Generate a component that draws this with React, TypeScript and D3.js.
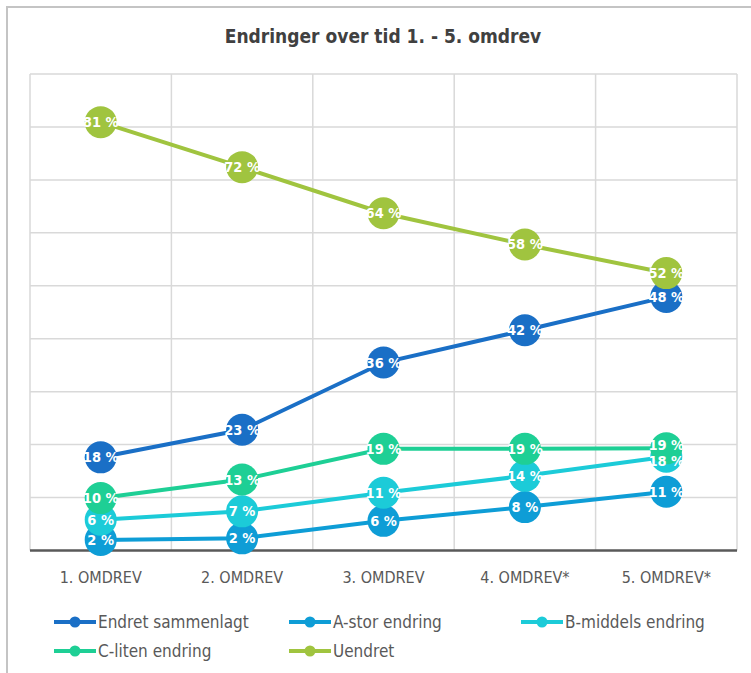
import React, { useEffect, useRef } from "react";
import * as d3 from "d3";

const categories = ["1. OMDREV", "2. OMDREV", "3. OMDREV", "4. OMDREV*", "5. OMDREV*"];
const seriesNames = ["Endret sammenlagt", "A-stor endring", "B-middels endring", "C-liten endring", "Uendret"];
const seriesColors = ["#1a6fc6", "#0e9dd6", "#1ccbd8", "#1ecf95", "#a0c43f"];
const endret = [17.6, 22.8, 35.5, 41.6, 47.9];
const aStor = [2.0, 2.3, 5.6, 8.2, 11.1];
const bMiddels = [5.8, 7.4, 10.9, 14.1, 17.7];
const cLiten = [9.9, 13.4, 19.2, 19.2, 19.3];
const uendret = [80.9, 72.4, 63.7, 57.8, 52.4];
const yTicks = [0, 10, 20, 30, 40, 50, 60, 70, 80, 90];

const W = 751;
const H = 673;
const font = "'Liberation Sans Narrow', 'DejaVu Sans Condensed', 'Open Sans', sans-serif";

export default function App() {
  const ref = useRef<SVGSVGElement>(null);

  useEffect(() => {
    const svg = d3.select(ref.current);
    svg.selectAll("*").remove();

    const allSeries = [endret, aStor, bMiddels, cLiten, uendret];
    const left = 30, right = 737, top = 74, bottom = 550.5;

    const x = d3.scaleBand().domain(categories).range([left, right]);
    const y = d3.scaleLinear().domain([0, 90]).range([bottom, top]);

    // chart frame
    svg.append("path")
      .attr("d", `M7,${H} L7,7 L${W},7`)
      .attr("fill", "none")
      .attr("stroke", "#c4c4c4")
      .attr("stroke-width", 2);

    svg.append("text")
      .attr("x", 383)
      .attr("y", 43)
      .attr("text-anchor", "middle")
      .attr("font-family", font)
      .attr("font-size", 19)
      .attr("font-weight", 600)
      .attr("fill", "#404040")
      .text("Endringer over tid 1. - 5. omdrev");

    const grid = svg.append("g").attr("stroke", "#d9d9d9").attr("stroke-width", 1.5);
    grid.selectAll("line.h")
      .data(yTicks.slice(1))
      .join("line")
      .attr("x1", left).attr("x2", right)
      .attr("y1", (d) => y(d)).attr("y2", (d) => y(d));
    grid.selectAll("line.v")
      .data([...categories.map((c) => x(c)!), right])
      .join("line")
      .attr("class", "v")
      .attr("x1", (d) => d).attr("x2", (d) => d)
      .attr("y1", top).attr("y2", bottom);

    svg.append("line")
      .attr("x1", left).attr("x2", right)
      .attr("y1", bottom).attr("y2", bottom)
      .attr("stroke", "#595959")
      .attr("stroke-width", 2.5);

    svg.append("g")
      .selectAll("text")
      .data(categories)
      .join("text")
      .attr("x", (d) => x(d)! + x.bandwidth() / 2)
      .attr("y", 583)
      .attr("text-anchor", "middle")
      .attr("font-family", font)
      .attr("font-size", 16)
      .attr("fill", "#595959")
      .text((d) => d);

    const cx = (i: number) => x(categories[i])! + x.bandwidth() / 2;
    const line = d3.line<number>().x((d, i) => cx(i)).y((d) => y(d));

    allSeries.forEach((vals, s) => {
      const g = svg.append("g");
      g.append("path")
        .attr("d", line(vals))
        .attr("fill", "none")
        .attr("stroke", seriesColors[s])
        .attr("stroke-width", 4);
      g.selectAll("circle")
        .data(vals)
        .join("circle")
        .attr("cx", (d, i) => cx(i))
        .attr("cy", (d) => y(d))
        .attr("r", 16)
        .attr("fill", seriesColors[s]);
    });

    // data labels on top, nudged apart where they collide
    const gap = 16;
    const labels: { x: number; y: number; v: number }[] = [];
    categories.forEach((c, i) => {
      const col = allSeries
        .map((vals) => ({ x: cx(i), y: y(vals[i]), v: vals[i] }))
        .sort((a, b) => a.y - b.y);
      for (let k = 1; k < col.length; k++) {
        if (col[k].y - col[k - 1].y < gap) {
          const mid = (col[k].y + col[k - 1].y) / 2;
          col[k - 1].y = mid - gap / 2;
          col[k].y = mid + gap / 2;
        }
      }
      labels.push(...col);
    });
    svg.append("g")
      .selectAll("text")
      .data(labels)
      .join("text")
      .attr("x", (d) => d.x)
      .attr("y", (d) => d.y + 5)
      .attr("text-anchor", "middle")
      .attr("font-family", font)
      .attr("font-size", 14.5)
      .attr("font-weight", "bold")
      .attr("fill", "#ffffff")
      .text((d) => `${Math.round(d.v)} %`);

    // legend
    const legendPos = [
      [54, 622], [289, 622], [521, 622],
      [54, 651], [289, 651],
    ];
    const legend = svg.append("g")
      .selectAll("g")
      .data(seriesNames)
      .join("g")
      .attr("transform", (d, i) => `translate(${legendPos[i][0]},${legendPos[i][1]})`);
    legend.append("line")
      .attr("x1", 0).attr("x2", 42)
      .attr("stroke", (d, i) => seriesColors[i])
      .attr("stroke-width", 4);
    legend.append("circle")
      .attr("cx", 21)
      .attr("r", 5.5)
      .attr("fill", (d, i) => seriesColors[i]);
    legend.append("text")
      .attr("x", 44)
      .attr("y", 6)
      .attr("font-family", font)
      .attr("font-size", 17)
      .attr("fill", "#595959")
      .text((d) => d);
  }, []);

  return (
    <svg
      ref={ref}
      width={W}
      height={H}
      style={{ position: "absolute", left: 0, top: 0, background: "#fff" }}
    />
  );
}
